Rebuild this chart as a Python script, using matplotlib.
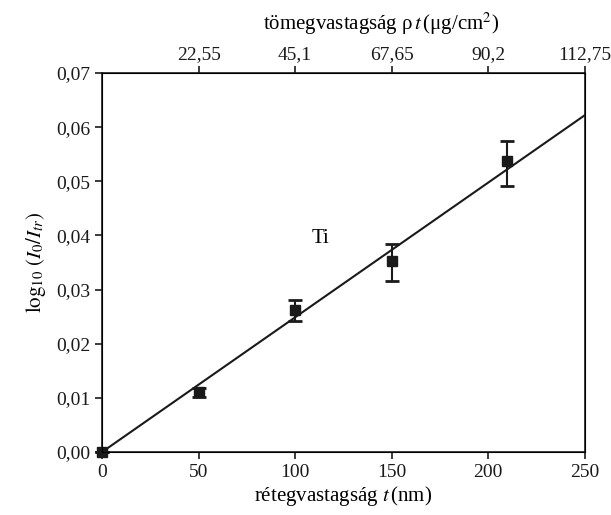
import numpy as np
import matplotlib
matplotlib.use('Agg')
import matplotlib.pyplot as plt

plt.rcParams['font.family'] = ['Liberation Serif', 'DejaVu Serif']
plt.rcParams['mathtext.fontset'] = 'stix'

# Data
thickness = [0, 50, 100, 150, 210]            # nm
log_ratio = [0.0, 0.0110, 0.0262, 0.0352, 0.0537]
err_low = [0.0, 0.0009, 0.0020, 0.0036, 0.0045]
err_high = [0.0, 0.0009, 0.0019, 0.0033, 0.0037]
fit_x = [0, 250]
fit_y = [0.0, 0.0622]

bottom_ticks = [0, 50, 100, 150, 200, 250]
y_ticks = [0.0, 0.01, 0.02, 0.03, 0.04, 0.05, 0.06, 0.07]
top_tick_pos = [50, 100, 150, 200, 250]
top_tick_labels = ['22,55', '45,1', '67,65', '90,2', '112,75']

fig = plt.figure(figsize=(6.11, 5.15), dpi=100)
ax = fig.add_axes([0.167, 0.1223, 0.790, 0.7359])

ax.plot(fit_x, fit_y, color='#1a1a1a', lw=1.5, zorder=2)
ax.errorbar(thickness, log_ratio, yerr=[err_low, err_high], fmt='s', color='#1a1a1a',
            ms=7, capsize=5, capthick=2, elinewidth=1.5, zorder=3, clip_on=False)

ax.set_xlim(0, 250)
ax.set_ylim(0, 0.07)
ax.set_xticks(bottom_ticks)
ax.set_xticklabels([str(t) for t in bottom_ticks])
ax.set_yticks(y_ticks)
ax.set_yticklabels([f'{v:.2f}'.replace('.', ',') for v in y_ticks])
ax.tick_params(direction='out', length=5, width=1.2, labelsize=14, colors='#1a1a1a')
for s in ax.spines.values():
    s.set_linewidth(1.2)
    s.set_color('#1a1a1a')

ax.set_xlabel(r'rétegvastagság $t\,$(nm)', fontsize=15, labelpad=2)
ax.set_ylabel(r'$\log_{10}\,(I_0/I_{tr})$', fontsize=15, labelpad=6)
ax.text(113, 0.0395, 'Ti', fontsize=15, ha='center', va='center')

top = ax.twiny()
top.set_xlim(ax.get_xlim())
top.set_xticks(top_tick_pos)
top.set_xticklabels(top_tick_labels)
top.tick_params(direction='out', length=5, width=1.2, labelsize=14, colors='#1a1a1a', pad=2)
top.set_xlabel(r'tömegvastagság ρ$\,t\,$(μg/cm$^2$)', fontsize=15)
top.xaxis.set_label_coords(0.578, 1.115)

fig.savefig('out.png', dpi=100)
